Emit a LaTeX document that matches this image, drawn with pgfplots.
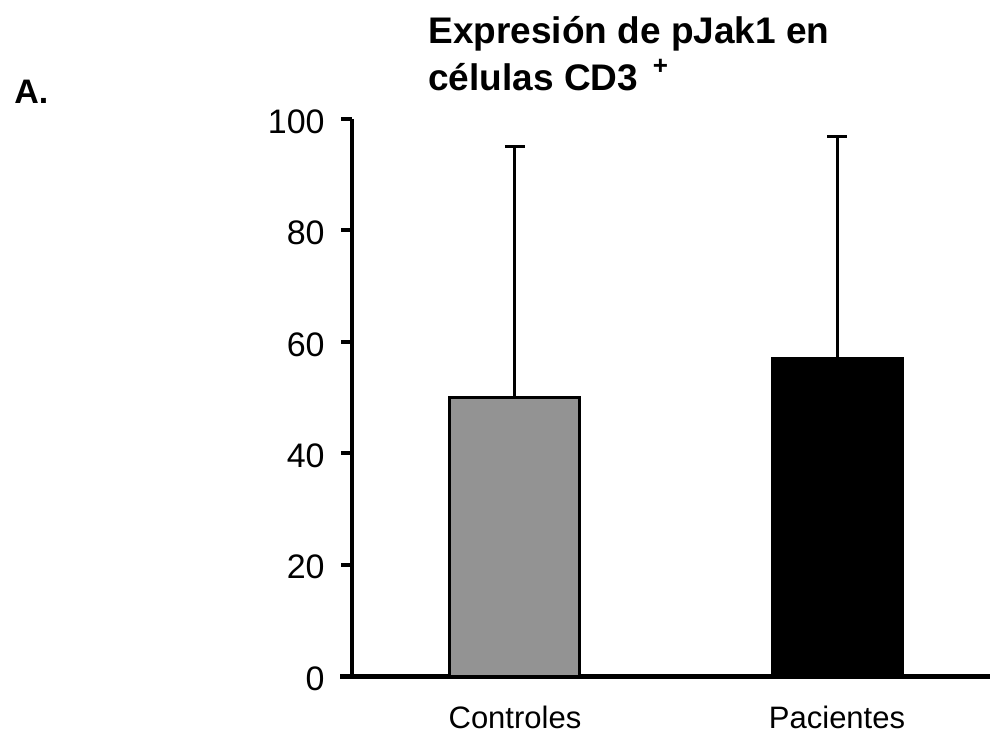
\documentclass[border=0pt]{standalone}
\usepackage{fontspec}
\setmainfont{Liberation Sans}
\usepackage{pgfplots}
\pgfplotsset{compat=1.18}
\definecolor{barg}{HTML}{939393}
\begin{document}
\begin{tikzpicture}[x=1pt,y=1pt]
\useasboundingbox (0,0) rectangle (495,367);
\begin{axis}[
  at={(176pt,29pt)}, anchor=south west,
  scale only axis, width=319pt, height=278.5pt,
  xmin=-0.506, xmax=1.475, ymin=0, ymax=100,
  axis lines*=left,
  axis line style={line width=2pt},
  x axis line style={shorten <=-6pt, line width=2.5pt},
  xtick={0,1}, xticklabels={Controles,Pacientes},
  ytick={0,20,40,60,80,100},
  tick align=outside, major tick length=5.5pt,
  major y tick style={line width=2pt, black},
  major x tick style={draw=none},
  xticklabel style={font=\fontsize{15.5}{18}\selectfont, anchor=base, inner sep=0pt, yshift=-20.5pt},
  yticklabel style={font=\fontsize{17}{20}\selectfont, anchor=east, inner sep=0pt, xshift=-8pt, yshift=-1.25pt},
  /pgf/number format/assume math mode=true,
  clip=false,
  ybar, bar width=65pt,
]
\addplot[bar shift=0pt, fill=barg, draw=black, line width=1.5pt,
  error bars/.cd, y dir=plus, y explicit, error mark=-,
  error bar style={line width=1.5pt, black},
  error mark options={rotate=90, line width=1.5pt, mark size=5pt, black}]
  coordinates {(0,50) +- (0,45)};
\addplot[bar shift=0pt, fill=black, draw=black, line width=1.5pt,
  error bars/.cd, y dir=plus, y explicit, error mark=-,
  error bar style={line width=1.5pt, black},
  error mark options={rotate=90, line width=1.5pt, mark size=5pt, black}]
  coordinates {(1,57) +- (0,39.8)};
\end{axis}
\node[anchor=base west, inner sep=0pt, font=\bfseries\fontsize{18.5}{22}\selectfont] at (214,345) {Expresión de pJak1 en};
\node[anchor=base west, inner sep=0pt, font=\bfseries\fontsize{18.5}{22}\selectfont] at (214,321.5) {células CD3\hspace{0.4em}\raisebox{0.45em}{\fontsize{13}{14}\selectfont +}};
\node[anchor=base west, inner sep=0pt, font=\bfseries\fontsize{17}{20}\selectfont] at (7,315) {A.};
\end{tikzpicture}
\end{document}
